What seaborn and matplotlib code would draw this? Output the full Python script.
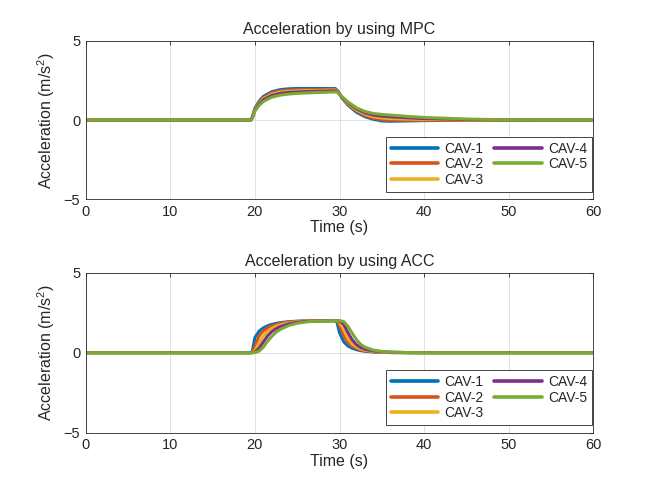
import numpy as np
import pandas as pd
import matplotlib
matplotlib.use("Agg")
import matplotlib.pyplot as plt
import seaborn as sns

# sample times (s)
t_mpc = [0, 19.5, 19.7, 20, 20.5, 21, 22, 23, 24, 25, 27, 29.5, 29.8, 30.3, 31, 32, 33, 34, 35, 36, 38, 40, 45, 50, 55, 60]
t_acc = [0, 19.5, 19.7, 20, 20.5, 21, 21.5, 22, 22.5, 23, 24, 25, 26, 27, 29.5, 29.7, 30, 30.5, 31, 31.5, 32, 32.5, 33, 34, 35, 36, 38, 40, 45, 50, 60]

cav_names = ["CAV-1", "CAV-2", "CAV-3", "CAV-4", "CAV-5"]

# acceleration by MPC (m/s^2)
mpc_cav1 = [0, 0, 0.20, 0.75, 1.20, 1.50, 1.80, 1.93, 1.98, 2.00, 2.00, 2.00, 1.85, 1.40, 0.95, 0.50, 0.22, 0.05, -0.05, -0.07, -0.05, -0.03, 0, 0, 0, 0]
mpc_cav2 = [0, 0, 0.18, 0.70, 1.12, 1.42, 1.72, 1.85, 1.90, 1.92, 1.93, 1.95, 1.82, 1.42, 1.00, 0.58, 0.30, 0.12, 0.03, 0.00, -0.01, -0.01, 0, 0, 0, 0]
mpc_cav3 = [0, 0, 0.16, 0.66, 1.06, 1.35, 1.64, 1.77, 1.82, 1.85, 1.87, 1.90, 1.80, 1.43, 1.05, 0.65, 0.38, 0.22, 0.14, 0.10, 0.07, 0.05, 0.02, 0.01, 0, 0]
mpc_cav4 = [0, 0, 0.14, 0.62, 1.00, 1.28, 1.56, 1.69, 1.75, 1.78, 1.82, 1.85, 1.78, 1.45, 1.10, 0.72, 0.46, 0.32, 0.25, 0.21, 0.15, 0.10, 0.04, 0.01, 0, 0]
mpc_cav5 = [0, 0, 0.12, 0.58, 0.93, 1.18, 1.45, 1.58, 1.65, 1.69, 1.74, 1.78, 1.75, 1.48, 1.15, 0.78, 0.55, 0.42, 0.36, 0.32, 0.24, 0.17, 0.07, 0.02, 0, 0]

# acceleration by ACC (m/s^2)
acc_cav1 = [0, 0, 0.10, 0.95, 1.35, 1.55, 1.68, 1.77, 1.83, 1.88, 1.94, 1.97, 1.99, 2.00, 2.00, 1.90, 1.25, 0.68, 0.42, 0.28, 0.19, 0.13, 0.09, 0.04, 0.02, 0.01, 0, 0, 0, 0, 0]
acc_cav2 = [0, 0, 0.02, 0.40, 1.05, 1.38, 1.55, 1.67, 1.76, 1.83, 1.91, 1.96, 1.98, 2.00, 2.00, 1.98, 1.70, 1.05, 0.62, 0.40, 0.27, 0.18, 0.12, 0.06, 0.03, 0.01, 0, 0, 0, 0, 0]
acc_cav3 = [0, 0, 0, 0.12, 0.62, 1.05, 1.34, 1.52, 1.65, 1.74, 1.86, 1.93, 1.97, 1.99, 2.00, 2.00, 1.92, 1.45, 0.88, 0.55, 0.36, 0.24, 0.16, 0.08, 0.04, 0.02, 0.01, 0, 0, 0, 0]
acc_cav4 = [0, 0, 0, 0.04, 0.28, 0.68, 1.05, 1.32, 1.50, 1.63, 1.80, 1.90, 1.95, 1.98, 2.00, 2.00, 1.98, 1.78, 1.25, 0.80, 0.50, 0.33, 0.22, 0.11, 0.06, 0.03, 0.01, 0, 0, 0, 0]
acc_cav5 = [0, 0, 0, 0.01, 0.10, 0.35, 0.72, 1.02, 1.28, 1.46, 1.70, 1.84, 1.92, 1.97, 2.00, 2.00, 2.00, 1.95, 1.65, 1.22, 0.82, 0.52, 0.35, 0.16, 0.08, 0.04, 0.01, 0, 0, 0, 0]

colors = ["#0072BD", "#D95319", "#EDB120", "#7E2F8E", "#77AC30"]

sns.set_style("white")
plt.rcParams['font.family'] = ['Liberation Sans', 'DejaVu Sans']
plt.rcParams['mathtext.fontset'] = 'custom'
plt.rcParams['mathtext.rm'] = 'Liberation Sans'
plt.rcParams['mathtext.it'] = 'Liberation Sans'


def make_df(t, series):
    frames = []
    for name, vals in zip(cav_names, series):
        frames.append(pd.DataFrame({'time': t, 'acc': vals, 'cav': name}))
    return pd.concat(frames, ignore_index=True)


df_mpc = make_df(t_mpc, [mpc_cav1, mpc_cav2, mpc_cav3, mpc_cav4, mpc_cav5])
df_acc = make_df(t_acc, [acc_cav1, acc_cav2, acc_cav3, acc_cav4, acc_cav5])

fig = plt.figure(figsize=(6.57, 4.92), dpi=100)
W, H = 657, 492
ax1 = fig.add_axes([85.7 / W, 1 - 199.3 / H, (593.3 - 85.7) / W, (199.3 - 41) / H])
ax2 = fig.add_axes([85.7 / W, 1 - 432.7 / H, (593.3 - 85.7) / W, (432.7 - 272.7) / H])

for ax, df, title in [(ax1, df_mpc, "Acceleration by using MPC"),
                      (ax2, df_acc, "Acceleration by using ACC")]:
    sns.lineplot(data=df, x='time', y='acc', hue='cav', palette=colors,
                 linewidth=2.2, ax=ax, estimator=None, sort=False)
    ax.set_xlim(0, 60)
    ax.set_ylim(-5, 5)
    ax.set_xticks([0, 10, 20, 30, 40, 50, 60])
    ax.set_yticks([-5, 0, 5])
    ax.grid(True, color='#dcdcdc', linewidth=0.6)
    ax.set_axisbelow(True)
    for s in ax.spines.values():
        s.set_color('#262626')
        s.set_linewidth(0.6)
    ax.tick_params(direction='in', length=3, width=0.6, color='#262626',
                   labelsize=10.5, top=True, right=True, pad=4)
    ax.set_title(title, fontsize=11.5, pad=5)
    ax.set_xlabel("Time (s)", fontsize=11.5, labelpad=1)
    ax.set_ylabel("Acceleration (m/s$^2$)", fontsize=11.5, labelpad=5)
    handles, labels = ax.get_legend_handles_labels()
    leg = ax.legend(handles, labels, ncol=2, loc='lower right',
                    bbox_to_anchor=(1.011, 0.004), fontsize=10, frameon=True,
                    fancybox=False, edgecolor='#262626', framealpha=1,
                    handlelength=3.4, handletextpad=0.45, columnspacing=0.8,
                    labelspacing=0.12, borderpad=0.35)
    leg.get_frame().set_linewidth(0.6)
    for line in leg.get_lines():
        line.set_linewidth(2.6)

fig.savefig("out.png", dpi=100)
